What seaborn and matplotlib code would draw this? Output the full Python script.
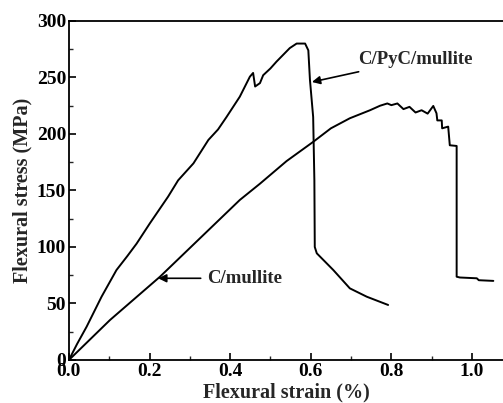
import matplotlib
matplotlib.use("Agg")
import matplotlib.pyplot as plt
import seaborn as sns
import pandas as pd
from matplotlib.ticker import MultipleLocator

# C/PyC/mullite curve
pyc_strain = [0.0, 0.02, 0.044, 0.081, 0.118, 0.145, 0.168, 0.201, 0.246, 0.271, 0.309,
              0.346, 0.37, 0.391, 0.424, 0.449, 0.457, 0.462, 0.474, 0.482, 0.50, 0.515,
              0.548, 0.565, 0.586, 0.594, 0.598, 0.606, 0.609, 0.610, 0.615, 0.656,
              0.697, 0.739, 0.792]
pyc_stress = [0.0, 14.0, 29.5, 56.0, 79.6, 92.0, 103.0, 121.0, 144.5, 159.0, 174.0,
              194.7, 204.0, 215.0, 233.0, 250.7, 254.0, 242.0, 245.0, 252.0, 258.0, 264.0,
              276.0, 280.0, 280.0, 274.0, 248.0, 215.0, 159.0, 100.0, 94.4, 79.6,
              63.4, 56.0, 48.7]

# C/mullite curve
cm_strain = [0.0, 0.102, 0.226, 0.424, 0.474, 0.54, 0.606, 0.65, 0.697, 0.747, 0.772,
             0.79, 0.80, 0.815, 0.83, 0.845, 0.86, 0.875, 0.89, 0.904, 0.912, 0.914,
             0.925, 0.926, 0.941, 0.945, 0.962, 0.962, 0.970, 1.012, 1.017, 1.053]
cm_stress = [0.0, 35.4, 73.7, 141.6, 156.0, 176.0, 193.0, 205.0, 213.9, 221.0, 225.0,
             227.0, 225.5, 227.0, 222.0, 224.0, 219.0, 221.0, 218.0, 224.8, 218.3, 212.0,
             212.0, 205.0, 206.5, 190.0, 189.4, 73.7, 73.0, 72.3, 70.6, 70.0]

label_pyc = "C/PyC/mullite"
label_cm = "C/mullite"
xlabel = "Flexural strain (%)"
ylabel = "Flexural stress (MPa)"

sns.set_theme(style="ticks")
plt.rcParams['font.family'] = ['Liberation Serif', 'DejaVu Serif']
plt.rcParams['font.weight'] = 'bold'

fig = plt.figure(figsize=(5.03, 4.03), dpi=100)
ax = fig.add_axes([0.137, 0.1067, 0.863, 0.8413])

df1 = pd.DataFrame({"strain": pyc_strain, "stress": pyc_stress})
df2 = pd.DataFrame({"strain": cm_strain, "stress": cm_stress})
sns.lineplot(data=df1, x="strain", y="stress", sort=False, estimator=None,
             color="black", lw=1.4, ax=ax)
sns.lineplot(data=df2, x="strain", y="stress", sort=False, estimator=None,
             color="black", lw=1.4, ax=ax)

ax.set_xlim(0, 1.077)
ax.set_ylim(0, 300)
ax.xaxis.set_minor_locator(MultipleLocator(0.1))
ax.yaxis.set_major_locator(MultipleLocator(50))
ax.yaxis.set_minor_locator(MultipleLocator(25))
ax.set_xticks([0.0, 0.2, 0.4, 0.6, 0.8, 1.0])
ax.set_xticklabels(["0.0", "0.2", "0.4", "0.6", "0.8", "1.0"])
ax.tick_params(which='major', direction='in', length=5, width=1.2, labelsize=14, pad=2,
               colors='black')
ax.tick_params(which='minor', direction='in', length=3, width=1.0)
for lab in ax.get_xticklabels() + ax.get_yticklabels():
    lab.set_fontweight('bold')

for s in ['left', 'bottom', 'top']:
    ax.spines[s].set_linewidth(1.3)
    ax.spines[s].set_color('black')
ax.spines['right'].set_visible(False)

ax.set_xlabel(xlabel, fontsize=14.5, fontweight='bold', labelpad=2)
ax.set_ylabel(ylabel, fontsize=14.5, fontweight='bold', labelpad=3)

ax.annotate(label_pyc, xy=(0.603, 246), xytext=(0.717, 266),
            fontsize=13.5, fontweight='bold', va='center', ha='left',
            arrowprops=dict(arrowstyle='-|>', color='black', lw=1.2,
                            mutation_scale=12, shrinkA=2, shrinkB=0))
ax.annotate(label_cm, xy=(0.2216, 72.3), xytext=(0.342, 72.3),
            fontsize=13.5, fontweight='bold', va='center', ha='left',
            arrowprops=dict(arrowstyle='-|>', color='black', lw=1.2,
                            mutation_scale=12, shrinkA=2, shrinkB=0))

fig.savefig("out.png", dpi=100)
